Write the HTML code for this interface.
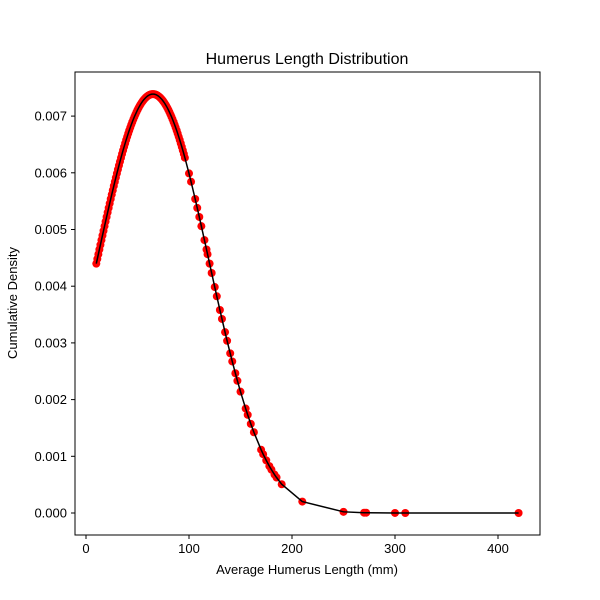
<!DOCTYPE html>
<html><head><meta charset="utf-8"><style>
body{margin:0;background:#fff;}
svg{display:block;font-family:"Liberation Sans","DejaVu Sans",sans-serif;}
</style></head><body>
<svg id="chart" width="600" height="600">
<rect width="600" height="600" fill="#fff"/>
<text x="307" y="64" text-anchor="middle" font-size="16">Humerus Length Distribution</text>
<text x="307" y="574" text-anchor="middle" font-size="13">Average Humerus Length (mm)</text>
<text transform="translate(17,303) rotate(-90)" text-anchor="middle" font-size="13">Cumulative Density</text>
<g id="marks"></g>
<rect x="75" y="72" width="465" height="463" fill="none" stroke="#000" stroke-width="1"/>
<g id="ticks"></g>
</svg>
<script>
const xValues=[10,12,13,15,17,18,20,22,24,25,27,28,30,32,33,35,37,38,40,42,44,45,47,50,52,55,57,60,62,65,67,70,72,75,77,80,82,85,87,90,92,95,96,100,102,106,108,110,112,115,117,118,120,122,125,127,130,132,135,137,140,142,145,147,150,155,157,160,163,170,172,175,178,180,183,185,190,210,250,270,272,300,310,420,
11,14,16,19,21,23,26,29,31,34,36,39,41,43,46,48,49,51,53,54,56,58,59,61,63,64,66,68,69,71,73,74,76,78,79,81,83,84,86,88,89,91,93,94];
const yValues=[0.004398,0.004564,0.004647,0.004813,0.004977,0.005059,0.005221,0.005381,0.005538,0.005616,0.005768,0.005843,0.005989,0.006130,0.006198,0.006332,0.006459,0.006520,0.006637,0.006748,0.006850,0.006898,0.006989,0.007108,0.007177,0.007262,0.007307,0.007356,0.007377,0.007388,0.007383,0.007356,0.007326,0.007262,0.007208,0.007108,0.007030,0.006898,0.006800,0.006637,0.006520,0.006332,0.006266,0.005989,0.005843,0.005538,0.005381,0.005221,0.005059,0.004813,0.004647,0.004564,0.004398,0.004233,0.003985,0.003822,0.003580,0.003422,0.003189,0.003037,0.002816,0.002673,0.002465,0.002332,0.002140,0.001842,0.001731,0.001572,0.001424,0.001116,0.001037,0.000928,0.000827,0.000765,0.000678,0.000626,0.000507,0.000201,0.0000209,0.0000055,0.000005,0.0000006,0,0,
0.004481,0.004730,0.004895,0.005140,0.005301,0.005460,0.005692,0.005916,0.006060,0.006266,0.006396,0.006580,0.006694,0.006800,0.006945,0.007030,0.007070,0.007144,0.007208,0.007237,0.007286,0.007326,0.007342,0.007368,0.007383,0.007387,0.007387,0.007377,0.007368,0.007342,0.007307,0.007286,0.007237,0.007177,0.007144,0.007070,0.006989,0.006945,0.006850,0.006748,0.006694,0.006580,0.006459,0.006396];
const xTicks=[0,100,200,300,400];
const yTicks=[0,0.001,0.002,0.003,0.004,0.005,0.006,0.007];
const NS="http://www.w3.org/2000/svg";
function sx(v){return 86+v*1.03;}
function sy(v){return 513-v*56700;}
const marks=document.getElementById('marks');
const ticks=document.getElementById('ticks');
const order=xValues.map((x,i)=>i).sort((a,b)=>xValues[a]-xValues[b]);
order.forEach(i=>{
  const c=document.createElementNS(NS,'circle');
  c.setAttribute('cx',sx(xValues[i]));c.setAttribute('cy',sy(yValues[i]));c.setAttribute('r',4);c.setAttribute('fill','#ff0000');
  
  
  marks.appendChild(c);
});
const pl=document.createElementNS(NS,'polyline');
pl.setAttribute('points',order.map(i=>sx(xValues[i])+','+sy(yValues[i])).join(' '));
pl.setAttribute('fill','none');pl.setAttribute('stroke','#000');pl.setAttribute('stroke-width','1.5');


marks.appendChild(pl);
xTicks.forEach(t=>{
  const l=document.createElementNS(NS,'line');
  l.setAttribute('x1',sx(t));l.setAttribute('x2',sx(t));l.setAttribute('y1',535);l.setAttribute('y2',539);l.setAttribute('stroke','#000');
  
  
  ticks.appendChild(l);
  const tx=document.createElementNS(NS,'text');
  tx.setAttribute('x',sx(t));tx.setAttribute('y',553);tx.setAttribute('text-anchor','middle');tx.setAttribute('font-size','13');
  tx.textContent=t;
  
  
  ticks.appendChild(tx);
});
yTicks.forEach(t=>{
  const l=document.createElementNS(NS,'line');
  l.setAttribute('x1',71);l.setAttribute('x2',75);l.setAttribute('y1',sy(t));l.setAttribute('y2',sy(t));l.setAttribute('stroke','#000');
  
  
  ticks.appendChild(l);
  const tx=document.createElementNS(NS,'text');
  tx.setAttribute('x',67);tx.setAttribute('y',sy(t)+4.5);tx.setAttribute('text-anchor','end');tx.setAttribute('font-size','13');
  tx.textContent=t.toFixed(3);
  
  
  ticks.appendChild(tx);
});
</script>
</body></html>
